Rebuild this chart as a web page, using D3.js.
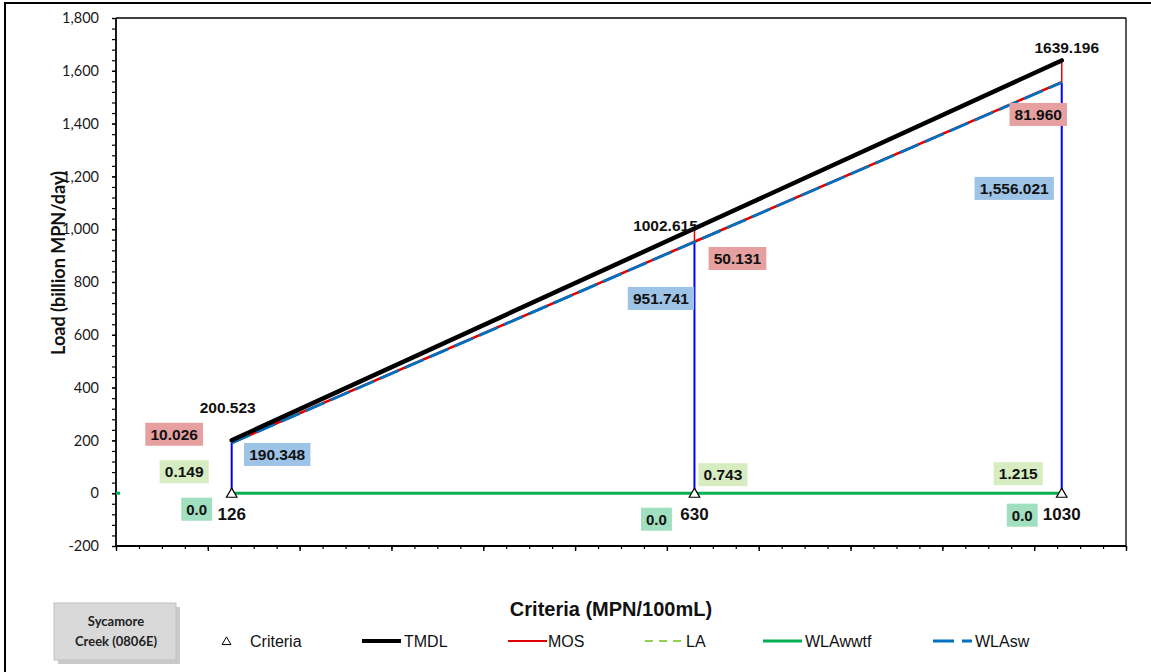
<!DOCTYPE html>
<html>
<head>
<meta charset="utf-8">
<script src="https://cdn.jsdelivr.net/npm/d3@7"></script>
<style>
  html, body { margin: 0; padding: 0; background: #fff; }
  svg { display: block; }
</style>
</head>
<body>
<svg id="chart" width="1151" height="672"></svg>
<script>
// ---------- data ----------
const criteria = [126, 630, 1030];
const tmdl     = [200.523, 1002.615, 1639.196];
const mos      = [10.026, 50.131, 81.960];
const la       = [0.149, 0.743, 1.215];
const wlaWwtf  = [0.0, 0.0, 0.0];
const wlaSw    = [190.348, 951.741, 1556.021];
const yTickValues = [-200, 0, 200, 400, 600, 800, 1000, 1200, 1400, 1600, 1800];
const legendLabels = ["Criteria", "TMDL", "MOS", "LA", "WLAwwtf", "WLAsw"];
const waterbody = ["Sycamore", "Creek (0806E)"];

// ---------- label placement (styling offsets in px) ----------
const tmdlOff = [[-4, -33], [-29, -3], [5, -13]];
const mosOff  = [[-57.5, -6], [43, 30], [-23.5, 54]];
const swOff   = [[45.5, 11.5], [-33.5, 56.5], [-47.5, 106]];
const laOff   = [[-47.5, -21.5], [28.5, -18.5], [-43.5, -19.5]];
const wwOff   = [[-35, 16], [-38, 26], [-39.5, 22]];

const svg = d3.select("#chart");
const x = d3.scaleLinear().domain([0, 1100]).range([116, 1126]);
const y = d3.scaleLinear().domain([-200, 1800]).range([546, 18]);

// outer chart border
svg.append("rect").attr("x", 5).attr("y", 3).attr("width", 1160).attr("height", 690)
  .attr("fill", "none").attr("stroke", "#000").attr("stroke-width", 2);

// plot area border (top & right)
svg.append("line").attr("x1", x(0)).attr("x2", x(1100)).attr("y1", y(1800)).attr("y2", y(1800))
  .attr("stroke", "#000").attr("stroke-width", 1.3);
svg.append("line").attr("x1", x(1100)).attr("x2", x(1100)).attr("y1", y(1800)).attr("y2", y(-200))
  .attr("stroke", "#000").attr("stroke-width", 1.3);

// y axis
const yMinor = d3.range(-200, 1801, 40);
const yAxisMinor = d3.axisLeft(y).tickValues(yMinor).tickSize(4).tickFormat("");
svg.append("g").attr("transform", `translate(${x(0)},0)`).call(yAxisMinor)
  .call(g => g.select(".domain").remove())
  .selectAll("line").attr("stroke", "#000").attr("stroke-width", 1.2);
const yAxis = d3.axisLeft(y).tickValues(yTickValues).tickSize(4).tickPadding(13)
  .tickFormat(d => d3.format(",")(d).replace("\u2212", "-"));
const yg = svg.append("g").attr("transform", `translate(${x(0)},0)`).call(yAxis);
yg.select(".domain").attr("stroke", "#000").attr("stroke-width", 1.8).attr("d", `M0,${y(-200)}V${y(1800)}`);
yg.selectAll("line").attr("stroke", "#000").attr("stroke-width", 1.2);
yg.selectAll("text").attr("font-family", "Lato, 'Open Sans', sans-serif")
  .attr("font-size", 14.5).attr("fill", "#1a1a1a");

// x axis
const xMinor = d3.range(0, 1101, 25);
const xAxisMinor = d3.axisBottom(x).tickValues(xMinor).tickSize(3).tickFormat("");
svg.append("g").attr("transform", `translate(0,${y(-200)})`).call(xAxisMinor)
  .call(g => g.select(".domain").remove())
  .selectAll("line").attr("stroke", "#000").attr("stroke-width", 1.2);
const xAxisMajor = d3.axisBottom(x).tickValues(d3.range(0, 1101, 100)).tickSize(5).tickFormat("");
const xg = svg.append("g").attr("transform", `translate(0,${y(-200)})`).call(xAxisMajor);
xg.select(".domain").attr("stroke", "#000").attr("stroke-width", 1.8).attr("d", `M${x(0)},0H${x(1100)}`);
xg.selectAll("line").attr("stroke", "#000").attr("stroke-width", 1.4);

// axis titles
svg.append("text").attr("x", 611).attr("y", 609).attr("text-anchor", "middle")
  .attr("dominant-baseline", "central")
  .attr("font-family", "'Liberation Sans', Arial, sans-serif").attr("font-weight", "bold")
  .attr("font-size", 20).attr("fill", "#111").text("Criteria (MPN/100mL)");
svg.append("text").attr("transform", "translate(58,263) rotate(-90)").attr("text-anchor", "middle")
  .attr("dominant-baseline", "central")
  .attr("font-family", "Lato, 'Open Sans', sans-serif").attr("font-weight", "bold")
  .attr("font-size", 18).attr("fill", "#111").text("Load (billion MPN/day)");

// ---------- series ----------
const idx = d3.range(criteria.length);
const line = arr => d3.line().x(i => x(criteria[i])).y(i => y(arr[i]))(idx);

// small WLAwwtf mark at axis
svg.append("line").attr("x1", x(0)).attr("x2", x(0) + 4).attr("y1", y(0)).attr("y2", y(0))
  .attr("stroke", "#00b050").attr("stroke-width", 3);

// vertical drop lines
idx.forEach(i => {
  svg.append("line").attr("x1", x(criteria[i])).attr("x2", x(criteria[i]))
    .attr("y1", y(wlaSw[i])).attr("y2", y(tmdl[i]))
    .attr("stroke", "#e00000").attr("stroke-width", 1.5);
  svg.append("line").attr("x1", x(criteria[i])).attr("x2", x(criteria[i]))
    .attr("y1", y(0)).attr("y2", y(wlaSw[i]))
    .attr("stroke", "#0000ff").attr("stroke-width", 2);
});

// WLAwwtf
svg.append("path").attr("d", line(wlaWwtf)).attr("fill", "none")
  .attr("stroke", "#00b050").attr("stroke-width", 3);
// LA (dashed light green) along allocation line, underneath
const laLine = idx.map(i => wlaSw[i] + la[i]);
svg.append("path").attr("d", line(laLine)).attr("fill", "none")
  .attr("stroke", "#92d050").attr("stroke-width", 2).attr("stroke-dasharray", "8,6");
// MOS (red) - drawn along TMDL minus MOS
const mosLine = idx.map(i => tmdl[i] - mos[i]);
svg.append("path").attr("d", line(mosLine)).attr("fill", "none")
  .attr("stroke", "#e00000").attr("stroke-width", 2.5);
// WLAsw (blue dashed)
svg.append("path").attr("d", line(wlaSw)).attr("fill", "none")
  .attr("stroke", "#0070c0").attr("stroke-width", 2.8).attr("stroke-dasharray", "20,7");
// TMDL (black)
svg.append("path").attr("d", line(tmdl)).attr("fill", "none")
  .attr("stroke", "#000").attr("stroke-width", 4.5).attr("stroke-linecap", "round");

// criteria triangles
const tri = d3.symbol().type(d3.symbolTriangle).size(48);
svg.selectAll(".crit").data(idx).join("path")
  .attr("d", tri)
  .attr("transform", i => `translate(${x(criteria[i])},${y(0) + 1})`)
  .attr("fill", "#fff").attr("stroke", "#000").attr("stroke-width", 1.2);

// ---------- labels ----------
const lblFont = "'Liberation Sans', Arial, sans-serif";
function boxLabel(cx, cy, txt, fill, fs) {
  const g = svg.append("g");
  const t = g.append("text").attr("x", cx).attr("y", cy).attr("text-anchor", "middle")
    .attr("dominant-baseline", "central").attr("font-family", lblFont)
    .attr("font-weight", "bold").attr("font-size", fs || 15.5).attr("fill", "#111").text(txt);
  if (fill) {
    const bb = t.node().getBBox();
    g.insert("rect", "text").attr("x", cx - bb.width / 2 - 5).attr("y", cy - 11.5)
      .attr("width", bb.width + 10).attr("height", 23).attr("fill", fill);
  }
}
const fmt3 = d3.format(",.3f");
idx.forEach(i => {
  const px = x(criteria[i]);
  boxLabel(px + tmdlOff[i][0], y(tmdl[i]) + tmdlOff[i][1], d3.format(".3f")(tmdl[i]), null);
  boxLabel(px + mosOff[i][0], y(tmdl[i]) + mosOff[i][1], fmt3(mos[i]), "#e6a0a0");
  boxLabel(px + swOff[i][0], y(wlaSw[i]) + swOff[i][1], fmt3(wlaSw[i]), "#9dc3e6");
  boxLabel(px + laOff[i][0], y(0) + laOff[i][1], fmt3(la[i]), "#d7edc1");
  boxLabel(px + wwOff[i][0], y(0) + wwOff[i][1], d3.format(".1f")(wlaWwtf[i]), "#a0dfbf", 15);
  boxLabel(px, y(0) + 21.5, String(criteria[i]), null, 17);
});

// ---------- legend ----------
const ly = 641;
const lg = svg.append("g").attr("font-family", lblFont).attr("font-size", 16).attr("fill", "#111");
lg.append("path").attr("d", d3.symbol().type(d3.symbolTriangle).size(34))
  .attr("transform", `translate(226.5,${ly + 1})`).attr("fill", "#fff").attr("stroke", "#000").attr("stroke-width", 1);
lg.append("text").attr("x", 250).attr("y", ly).attr("dominant-baseline", "central").text(legendLabels[0]);
const legItems = [
  {x0: 362, tx: 404, stroke: "#000", w: 4, dash: null, label: legendLabels[1]},
  {x0: 508, tx: 548, stroke: "#e00000", w: 2.2, dash: null, label: legendLabels[2]},
  {x0: 645, tx: 686, stroke: "#92d050", w: 2.2, dash: "8,6", label: legendLabels[3]},
  {x0: 763, tx: 805, stroke: "#00b050", w: 3, dash: null, label: legendLabels[4]},
  {x0: 933, tx: 975, stroke: "#0070c0", w: 3, dash: "21,8", label: legendLabels[5]},
];
legItems.forEach(d => {
  lg.append("line").attr("x1", d.x0).attr("x2", d.x0 + 39).attr("y1", ly).attr("y2", ly)
    .attr("stroke", d.stroke).attr("stroke-width", d.w).attr("stroke-dasharray", d.dash);
  lg.append("text").attr("x", d.tx).attr("y", ly).attr("dominant-baseline", "central").text(d.label);
});

// waterbody box
const bx = svg.append("g");
bx.append("rect").attr("x", 58).attr("y", 607).attr("width", 122).attr("height", 57).attr("fill", "#a6a6a6").attr("opacity", 0.6);
bx.append("rect").attr("x", 54).attr("y", 603).attr("width", 122).attr("height", 57)
  .attr("fill", "#d9d9d9").attr("stroke", "#bfbfbf").attr("stroke-width", 1);
waterbody.forEach((t, i) => {
  bx.append("text").attr("x", 116).attr("y", 621 + i * 20).attr("text-anchor", "middle")
    .attr("dominant-baseline", "central").attr("font-family", "Lato, 'Open Sans', sans-serif")
    .attr("font-weight", "bold").attr("font-size", 13).attr("fill", "#222").text(t);
});
</script>
</body>
</html>
